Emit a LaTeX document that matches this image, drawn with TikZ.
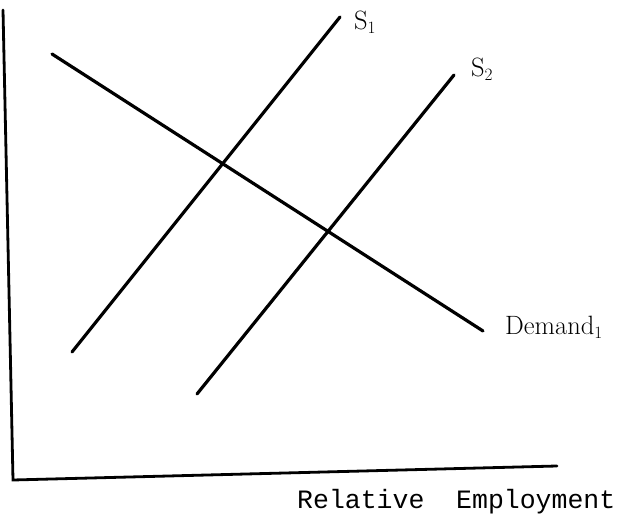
\documentclass[tikz,border=0pt]{standalone}
\usepackage{fontspec}
\setmonofont{Liberation Mono}
\usetikzlibrary{positioning}

\begin{document}
\begin{tikzpicture}[
  x=1pt,y=1pt,
  axis/.style={draw=black,line width=2.8pt,line cap=round},
  curve/.style={draw=black,line width=3.2pt,line cap=round},
  lbl/.style={font=\fontsize{26.5}{30}\selectfont,inner sep=0pt,anchor=west},
  axlbl/.style={font=\ttfamily\fontsize{26.5}{30}\selectfont,inner sep=0pt,anchor=west}]
\useasboundingbox (0,0) rectangle (635,517);
% axes
\coordinate (ytop) at (3,507);
\coordinate (orig) at (13,37);
\coordinate (xend) at (557,51);
\draw[axis] (ytop) -- (orig) -- (xend);
% demand and the two supply curves
\coordinate (d0) at (52,463);
\coordinate (d1) at (483,186);
\coordinate (a0) at (72,165);
\coordinate (a1) at (340,500);
\coordinate (b0) at (197,123);
\coordinate (b1) at (454,442);
\draw[curve] (d0) -- (d1);
\draw[curve] (a0) -- (a1);
\draw[curve] (b0) -- (b1);
\node[lbl] (dlab) at (505,190) {Demand$_1$};
\node[lbl] (alab) at (354,495) {S$_1$};
\node[lbl] (blab) at (471,448) {S$_2$};
\node[axlbl] (xlab) at (297,15) {Relative\ \ Employment};
\end{tikzpicture}
\end{document}
